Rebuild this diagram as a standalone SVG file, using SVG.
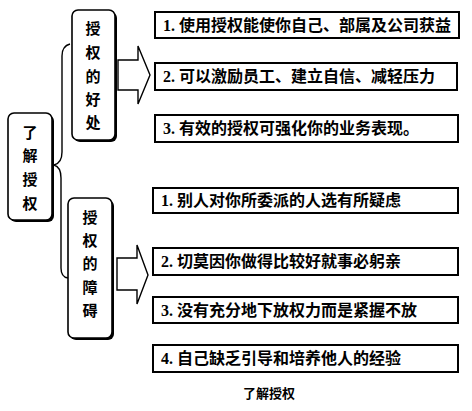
<svg xmlns="http://www.w3.org/2000/svg" width="472" height="411" viewBox="0 0 472 411">
<style>
.t{font-family:"Liberation Serif","Noto Sans CJK SC",serif;font-size:16px;font-weight:bold;fill:#000}
.v{font-family:"Noto Sans CJK SC",serif;font-size:15px;font-weight:bold;fill:#000;text-anchor:middle}
.box{fill:#fff;stroke:#000;stroke-width:2}
.sh{fill:#000}
.rb{fill:#fff;stroke:#000;stroke-width:1.6}
.ln{fill:none;stroke:#000;stroke-width:1.4}
</style>
<rect width="472" height="411" fill="#fff"/>
<g id="connectors">
<path class="ln" d="M70,44 Q62,46 62,56 L62,152 Q62,163 54,165 Q61,167 61,178 L61,268 Q61,277 68,278"/>
<path class="ln" d="M118,60 L138,60 L138,46 L150,75 L138,104 L138,90 L118,90 Z" fill="#fff"/>
<path class="ln" d="M117,258 L137,258 L137,245 L148,275 L137,304 L137,290 L117,290 Z" fill="#fff"/>
</g>
<g id="root">
<rect class="sh" x="10" y="115" width="44" height="107" rx="6"/>
<rect class="rb" x="8" y="113" width="44" height="107" rx="6"/>
<text class="v" x="30" y="138">了</text>
<text class="v" x="30" y="161">解</text>
<text class="v" x="30" y="185">授</text>
<text class="v" x="30" y="209">权</text>
</g>
<g id="benefits">
<rect class="sh" x="74" y="12" width="43" height="130" rx="6"/>
<rect class="rb" x="72" y="10" width="43" height="130" rx="6"/>
<text class="v" x="93" y="34">授</text>
<text class="v" x="93" y="58">权</text>
<text class="v" x="93" y="82">的</text>
<text class="v" x="93" y="105">好</text>
<text class="v" x="93" y="128">处</text>
</g>
<g id="obstacles">
<rect class="sh" x="70" y="200" width="44" height="140" rx="6"/>
<rect class="rb" x="68" y="198" width="44" height="140" rx="6"/>
<text class="v" x="90" y="223">授</text>
<text class="v" x="90" y="246">权</text>
<text class="v" x="90" y="269">的</text>
<text class="v" x="90" y="293">障</text>
<text class="v" x="90" y="316">碍</text>
</g>
<g id="b1"><rect class="box" x="155" y="12" width="304" height="26"/><text class="t" x="163" y="31">1. 使用授权能使你自己、部属及公司获益</text></g>
<g id="b2"><rect class="box" x="155" y="63" width="302" height="27"/><text class="t" x="163" y="82">2. 可以激励员工、建立自信、减轻压力</text></g>
<g id="b3"><rect class="box" x="155" y="115" width="303" height="27"/><text class="t" x="163" y="134">3. 有效的授权可强化你的业务表现。</text></g>
<g id="o1"><rect class="box" x="153" y="188" width="305" height="25"/><text class="t" x="161" y="206">1. 别人对你所委派的人选有所疑虑</text></g>
<g id="o2"><rect class="box" x="153" y="248" width="305" height="27"/><text class="t" x="161" y="267">2. 切莫因你做得比较好就事必躬亲</text></g>
<g id="o3"><rect class="box" x="153" y="297" width="305" height="26"/><text class="t" x="161" y="316">3. 没有充分地下放权力而是紧握不放</text></g>
<g id="o4"><rect class="box" x="153" y="345" width="305" height="27"/><text class="t" x="161" y="364">4. 自己缺乏引导和培养他人的经验</text></g>
<text x="269" y="398" text-anchor="middle" style="font-family:'Noto Sans CJK SC',serif;font-size:13px;font-weight:bold">了解授权</text>
</svg>
